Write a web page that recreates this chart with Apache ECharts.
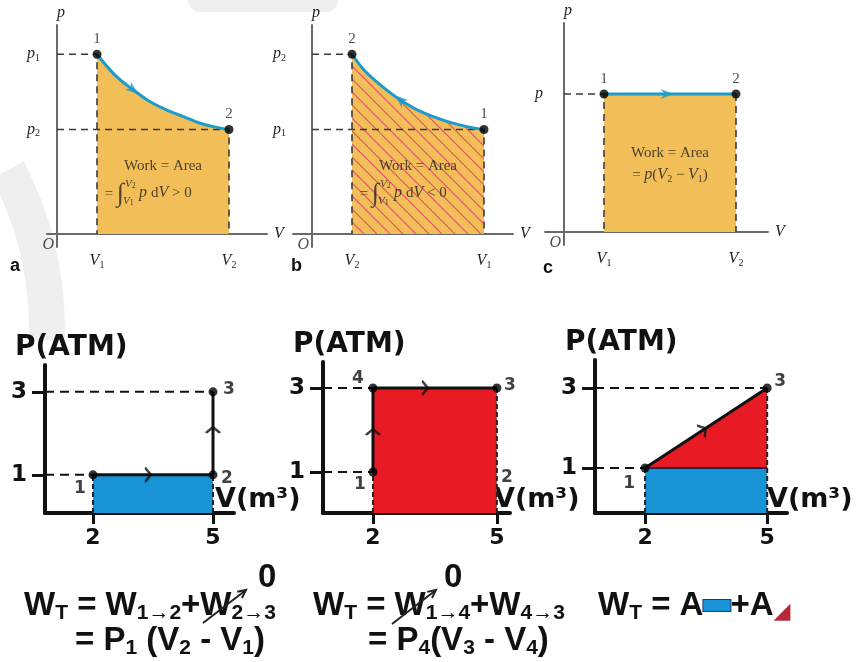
<!DOCTYPE html>
<html><head><meta charset="utf-8">
<script src="https://cdn.jsdelivr.net/npm/echarts@6/dist/echarts.min.js"></script>
<style>html,body{margin:0;padding:0;background:#fff}#c{width:859px;height:662px}</style>
</head><body><div id="c"></div>
<script>
// ================= DATA =================
// Panel a: expansion 1 -> 2 (V, p in arbitrary units)
const aV = [1.0, 1.45, 1.9, 2.33, 2.75, 3.18, 3.58, 3.93, 4.3];
const aP = [3.44, 3.04, 2.76, 2.53, 2.37, 2.24, 2.12, 2.05, 2.0];
const aStates = [[1.0, 3.44, '1'], [4.3, 2.0, '2']];
const aTickV = [1.0, 4.3], aTickVNames = ['1', '2'];
const aTickP = [2.0, 3.44], aTickPNames = ['2', '1'];
// Panel b: compression 1 -> 2
const bV = [1.0, 1.3, 1.7, 2.2, 2.75, 3.35, 3.9, 4.3];
const bP = [3.44, 3.14, 2.86, 2.57, 2.33, 2.16, 2.05, 2.0];
const bStates = [[4.3, 2.0, '1'], [1.0, 3.44, '2']];
const bTickV = [1.0, 4.3], bTickVNames = ['2', '1'];
const bTickP = [2.0, 3.44], bTickPNames = ['1', '2'];
// Panel c: constant pressure 1 -> 2
const cV = [1.0, 4.3];
const cP = [2.64, 2.64];
const cStates = [[1.0, 2.64, '1'], [4.3, 2.64, '2']];
const cTickV = [1.0, 4.3], cTickVNames = ['1', '2'];
// Bottom panels: P (atm) vs V (m^3)
const botTickV = [2, 5];
const botTickP = [1, 3];
const dStates = [[2, 1, '1'], [5, 1, '2'], [5, 3, '3']];
const eStates = [[2, 1, '1'], [2, 3, '4'], [5, 3, '3'], [5, 1, '2']];
const fStates = [[2, 1, '1'], [5, 3, '3']];

// ================= STYLE =================
const ORANGE = '#F2BE58', TEAL = '#1E9ACB', BLUE = '#1893D6', RED = '#E81B24';
const AXG = '#6a6a6a';
const TXT = '#222';
const SERIF = '"Liberation Serif","DejaVu Serif",serif';
const SANS = '"DejaVu Sans",sans-serif';
const ARIAL = '"Liberation Sans",Arial,sans-serif';
const zip = (xs, ys) => xs.map((x, i) => [x, ys[i]]);

const topRich = {
  i: {fontFamily: SERIF, fontStyle: 'italic', fontSize: 16, color: TXT, lineHeight: 18},
  t: {fontFamily: SERIF, fontSize: 15, color: TXT, lineHeight: 18},
  s: {fontFamily: SERIF, fontSize: 10, color: TXT, lineHeight: 10, verticalAlign: 'bottom'},
  int: {fontFamily: SERIF, fontStyle: 'italic', fontSize: 26, color: TXT, lineHeight: 28},
  si: {fontFamily: SERIF, fontStyle: 'italic', fontSize: 11, color: TXT, lineHeight: 12},
  ss: {fontFamily: SERIF, fontSize: 8, color: TXT, lineHeight: 8, verticalAlign: 'bottom'}
};

function hatch() {
  const s = 13, c = document.createElement('canvas');
  c.width = s; c.height = s;
  const g = c.getContext('2d');
  g.fillStyle = ORANGE; g.fillRect(0, 0, s, s);
  g.strokeStyle = '#E4506A'; g.lineWidth = 1.2;
  g.beginPath();
  g.moveTo(0, 0); g.lineTo(s, s);
  g.moveTo(-2, s - 2); g.lineTo(2, s + 2);
  g.moveTo(s - 2, -2); g.lineTo(s + 2, 2);
  g.stroke();
  return c;
}
function textW(t, font) {
  const g = document.createElement('canvas').getContext('2d');
  g.font = font; return g.measureText(t).width;
}

// ================= HELPERS =================
function line(gi, data, opts) {
  return Object.assign({type: 'line', xAxisIndex: gi, yAxisIndex: gi, data: data,
    symbol: 'none', silent: true, animation: false}, opts);
}
const topDash = {lineStyle: {color: '#3a3a3a', width: 1.6, type: [7, 5]}, z: 3};
const botDash = {lineStyle: {color: '#111', width: 2, type: [9, 6]}, z: 3};
const edgeDash = {lineStyle: {color: '#222', width: 2, type: [5, 3]}, z: 3};

function pointSeries(gi, states, labelOpt, sizes) {
  return {type: 'scatter', xAxisIndex: gi, yAxisIndex: gi, silent: true, animation: false, z: 6,
    symbolSize: 9, itemStyle: {color: '#000'},
    data: states.map((s, i) => {
      const it = {value: [s[0], s[1]], name: s[2]};
      if (sizes) it.symbolSize = sizes[i];
      if (labelOpt.offsets) it.label = {offset: labelOpt.offsets[i]};
      return it;
    }),
    label: Object.assign({show: true, formatter: '{b}'}, labelOpt.base)};
}
function arrowSeries(gi, pt, rot, opts) {
  return Object.assign({type: 'scatter', xAxisIndex: gi, yAxisIndex: gi, silent: true, animation: false, z: 5,
    data: [pt], symbolRotate: rot}, opts);
}
const topArrow = {symbol: 'path://M6,0 L12,14 L6,10 L0,14 Z', symbolSize: [10, 13], itemStyle: {color: TEAL}};
const chevron = {symbol: 'path://M0,9 L7,0 L14,9', symbolSize: [14, 9], symbolKeepAspect: true,
  itemStyle: {color: 'rgba(0,0,0,0)', borderColor: '#111', borderWidth: 2.5}};

function textSeries(gi, items) {
  return {type: 'scatter', xAxisIndex: gi, yAxisIndex: gi, silent: true, animation: false, z: 7,
    symbolSize: 1, itemStyle: {color: 'rgba(0,0,0,0)'},
    data: items.map(it => ({value: it.at, label: Object.assign({show: true, position: 'inside',
      formatter: it.text, rich: topRich}, it.opt || {})}))};
}

function topX(gi, min, max, ticks, names) {
  return {type: 'value', gridIndex: gi, min: min, max: max,
    axisLine: {onZero: true, lineStyle: {color: AXG, width: 2}}, axisTick: {show: false}, splitLine: {show: false},
    axisLabel: {customValues: ticks, margin: 5, rich: topRich,
      formatter: v => { const k = ticks.findIndex(t => Math.abs(t - v) < 1e-6); return '{i|V}{s|' + names[k] + '}'; }},
    name: 'V', nameLocation: 'end', nameGap: 7,
    nameTextStyle: {fontFamily: SERIF, fontStyle: 'italic', fontSize: 16, color: TXT, verticalAlign: 'middle'}};
}
function topY(gi, min, max, ticks, names, margin) {
  return {type: 'value', gridIndex: gi, min: min, max: max,
    axisLine: {onZero: true, lineStyle: {color: AXG, width: 2}}, axisTick: {show: false}, splitLine: {show: false},
    axisLabel: {customValues: ticks, margin: margin, rich: topRich,
      formatter: v => { const k = ticks.findIndex(t => Math.abs(t - v) < 1e-6); return names ? '{i|p}{s|' + names[k] + '}' : '{i|p}'; }},
    name: 'p', nameLocation: 'end', nameGap: 4,
    nameTextStyle: {fontFamily: SERIF, fontStyle: 'italic', fontSize: 16, color: TXT, align: 'left'}};
}
const botFont = {fontFamily: SANS, fontWeight: 'bold', color: '#111'};
const wP = textW('P(ATM)', 'bold 28px "DejaVu Sans"');
function botX(gi, min, max, gap) {
  return {type: 'value', gridIndex: gi, min: min, max: max,
    axisLine: {onZero: false, lineStyle: {color: '#111', width: 4}},
    axisTick: {customValues: botTickV, length: 11, lineStyle: {color: '#111', width: 3}},
    axisLabel: Object.assign({customValues: botTickV, margin: 14, fontSize: 22}, botFont),
    splitLine: {show: false},
    name: 'V(m³)', nameLocation: 'end', nameGap: gap,
    nameTextStyle: Object.assign({fontSize: 27, align: 'left', verticalAlign: 'bottom'}, botFont)};
}
function botY(gi, min, max) {
  return {type: 'value', gridIndex: gi, min: min, max: max,
    axisLine: {onZero: false, lineStyle: {color: '#111', width: 4}},
    axisTick: {customValues: botTickP, length: 13, lineStyle: {color: '#111', width: 3}},
    axisLabel: Object.assign({customValues: botTickP, margin: 18, fontSize: 23}, botFont),
    splitLine: {show: false},
    name: 'P(ATM)', nameLocation: 'end', nameGap: 17,
    nameTextStyle: Object.assign({fontSize: 28, align: 'center', verticalAlign: 'middle',
      padding: [0, 0, 0, Math.max(0, wP - 60)]}, botFont)};
}

// ================= AXES & GRIDS =================
const grids = [
  {left: 47, top: 25, width: 220, height: 222},
  {left: 293, top: 25, width: 220, height: 222},
  {left: 545, top: 23, width: 223, height: 222},
  {left: 45, top: 365, width: 189, height: 148},
  {left: 323, top: 362, width: 187, height: 151},
  {left: 595, top: 360, width: 192, height: 153}
];
const bLim = [
  {x: [0.8, 5.525], y: [0.08, 3.646]},
  {x: [0.79, 5.318], y: [0.024, 3.619]},
  {x: [0.77, 5.487], y: [-0.125, 3.7]}
];
const xAxis = [
  topX(0, -0.25, 5.25, aTickV, aTickVNames),
  topX(1, -0.475, 5.025, bTickV, bTickVNames),
  topX(2, -0.475, 5.1, cTickV, cTickVNames),
  botX(3, bLim[0].x[0], bLim[0].x[1], -19),
  botX(4, bLim[1].x[0], bLim[1].x[1], -16),
  botX(5, bLim[2].x[0], bLim[2].x[1], -20)
];
const yAxis = [
  topY(0, -0.25, 4.0, aTickP, aTickPNames, 7),
  topY(1, -0.25, 4.0, bTickP, bTickPNames, 7),
  topY(2, -0.25, 4.0, [cP[0]], null, 2),
  botY(3, bLim[0].y[0], bLim[0].y[1]),
  botY(4, bLim[1].y[0], bLim[1].y[1]),
  botY(5, bLim[2].y[0], bLim[2].y[1])
];

// ================= SERIES =================
const series = [];
const topPtLabel = {base: {position: 'top', distance: 3, fontFamily: SERIF, fontSize: 15, color: TXT}};
// --- panel a
const aPts = zip(aV, aP), aN = aV.length - 1;
series.push(line(0, aPts, {smooth: 0.35, lineStyle: {width: 0}, areaStyle: {color: ORANGE, opacity: 1}, z: 1}));
series.push(line(0, [[0, aP[0]], [aV[0], aP[0]], [aV[0], 0]], topDash));
series.push(line(0, [[0, aP[aN]], [aV[aN], aP[aN]], [aV[aN], 0]], topDash));
series.push(line(0, aPts, {smooth: 0.35, lineStyle: {color: TEAL, width: 3}, z: 4}));
series.push(pointSeries(0, aStates, topPtLabel));
series.push(arrowSeries(0, [aV[2], aP[2]], -127, topArrow));
// --- panel b
const bPts = zip(bV, bP), bN = bV.length - 1;
series.push(line(1, bPts, {smooth: 0.35, lineStyle: {width: 0}, areaStyle: {color: {image: hatch(), repeat: 'repeat'}, opacity: 1}, z: 1}));
series.push(line(1, [[0, bP[0]], [bV[0], bP[0]], [bV[0], 0]], topDash));
series.push(line(1, [[0, bP[bN]], [bV[bN], bP[bN]], [bV[bN], 0]], topDash));
series.push(line(1, bPts, {smooth: 0.35, lineStyle: {color: TEAL, width: 3}, z: 4}));
series.push(pointSeries(1, bStates, topPtLabel));
series.push(arrowSeries(1, [bV[3], bP[3]], 51, topArrow));
// --- panel c
const cPts = zip(cV, cP);
series.push(line(2, cPts, {lineStyle: {width: 0}, areaStyle: {color: ORANGE, opacity: 1}, z: 1}));
series.push(line(2, [[0, cP[0]], [cV[0], cP[0]], [cV[0], 0]], topDash));
series.push(line(2, [[cV[1], cP[1]], [cV[1], 0]], topDash));
series.push(line(2, cPts, {lineStyle: {color: TEAL, width: 3}, z: 4}));
series.push(pointSeries(2, cStates, topPtLabel));
series.push(arrowSeries(2, [2.58, cP[0]], -90, topArrow));

// --- text inside top panels
const midA = (aV[0] + aV[aN]) / 2;
series.push(textSeries(0, [
  {at: [midA, 1.3], text: '{t|Work = Area}'},
  {at: [midA, 0.78], text: '{t|= }{int|∫}', opt: {align: 'right', offset: [-39, 1]}},
  {at: [midA, 0.78], text: '{si|V}{ss|2}', opt: {align: 'left', offset: [-38, -9]}},
  {at: [midA, 0.78], text: '{si|V}{ss|1}', opt: {align: 'left', offset: [-40, 8]}},
  {at: [midA, 0.78], text: '{i|p }{t|d}{i|V}{t| > 0}', opt: {align: 'left', offset: [-24, 0]}},
  {at: [0, 0], text: '{i|O}', opt: {align: 'right', offset: [-3, 11]}}
]));
const midB = (bV[0] + bV[bN]) / 2;
series.push(textSeries(1, [
  {at: [midB, 1.3], text: '{t|Work = Area}'},
  {at: [midB, 0.78], text: '{t|= }{int|∫}', opt: {align: 'right', offset: [-39, 1]}},
  {at: [midB, 0.78], text: '{si|V}{ss|2}', opt: {align: 'left', offset: [-38, -9]}},
  {at: [midB, 0.78], text: '{si|V}{ss|1}', opt: {align: 'left', offset: [-40, 8]}},
  {at: [midB, 0.78], text: '{i|p }{t|d}{i|V}{t| < 0}', opt: {align: 'left', offset: [-24, 0]}},
  {at: [0, 0], text: '{i|O}', opt: {align: 'right', offset: [-3, 11]}}
]));
const midC = (cV[0] + cV[1]) / 2;
series.push(textSeries(2, [
  {at: [midC, 1.51], text: '{t|Work = Area}'},
  {at: [midC, 1.09], text: '{t|= }{i|p}{t|(}{i|V}{s|2}{t| − }{i|V}{s|1}{t|)}'},
  {at: [0, 0], text: '{i|O}', opt: {align: 'right', offset: [-3, 11]}}
]));

// --- bottom panels
const botPtLabel = (offs) => ({base: {position: 'inside', fontFamily: SANS, fontWeight: 'bold', fontSize: 17, color: '#111'}, offsets: offs});
// panel d
const dy0 = bLim[0].y[0], dx0 = bLim[0].x[0];
series.push(line(3, [[dStates[0][0], dStates[0][1]], [dStates[1][0], dStates[1][1]]], {lineStyle: {width: 0}, areaStyle: {color: BLUE, opacity: 1, origin: 'start'}, z: 1}));
series.push(line(3, [[dStates[0][0], dy0], [dStates[0][0], dStates[0][1]]], edgeDash));
series.push(line(3, [[dStates[1][0], dy0], [dStates[1][0], dStates[1][1]]], edgeDash));
series.push(line(3, [[dx0, dStates[2][1]], [dStates[2][0], dStates[2][1]]], botDash));
series.push(line(3, [[dx0, dStates[0][1]], [dStates[0][0], dStates[0][1]]], botDash));
series.push(line(3, dStates.map(s => [s[0], s[1]]), {lineStyle: {color: '#111', width: 3}, z: 4}));
series.push(pointSeries(3, dStates, botPtLabel([[-13, 14], [14, 4], [16, -2]])));
series.push(arrowSeries(3, [3.375, 1], -90, chevron));
series.push(arrowSeries(3, [5, 2.08], 0, chevron));
// panel e
const ey0 = bLim[1].y[0], ex0 = bLim[1].x[0];
series.push(line(4, [[eStates[1][0], eStates[1][1]], [eStates[2][0], eStates[2][1]]], {lineStyle: {width: 0}, areaStyle: {color: RED, opacity: 1, origin: 'start'}, z: 1}));
series.push(line(4, [[eStates[0][0], ey0], [eStates[0][0], eStates[0][1]]], edgeDash));
series.push(line(4, [[eStates[2][0], ey0], [eStates[2][0], eStates[2][1]]], edgeDash));
series.push(line(4, [[ex0, eStates[1][1]], [eStates[1][0], eStates[1][1]]], botDash));
series.push(line(4, [[ex0, eStates[0][1]], [eStates[0][0], eStates[0][1]]], botDash));
series.push(line(4, eStates.slice(0, 3).map(s => [s[0], s[1]]), {lineStyle: {color: '#111', width: 3}, z: 4}));
series.push(pointSeries(4, eStates, botPtLabel([[-13, 13], [-15, -9], [13, -2], [10, 6]]), [9, 9, 9, 0]));
series.push(arrowSeries(4, [2, 1.95], 0, chevron));
series.push(arrowSeries(4, [3.26, 3], -90, chevron));
// panel f
const fy0 = bLim[2].y[0], fx0 = bLim[2].x[0];
series.push(line(5, [[fStates[0][0], fStates[0][1]], [fStates[1][0], fStates[0][1]]], {lineStyle: {color: '#1c2550', width: 2}, areaStyle: {color: BLUE, opacity: 1, origin: 'start'}, z: 2}));
series.push(line(5, fStates.map(s => [s[0], s[1]]), {lineStyle: {width: 0}, areaStyle: {color: RED, opacity: 1, origin: fStates[0][1]}, z: 1}));
series.push(line(5, [[fStates[0][0], fy0], [fStates[0][0], fStates[0][1]]], edgeDash));
series.push(line(5, [[fStates[1][0], fy0], [fStates[1][0], fStates[1][1]]], edgeDash));
series.push(line(5, [[fx0, fStates[1][1]], [fStates[1][0], fStates[1][1]]], botDash));
series.push(line(5, [[fx0, fStates[0][1]], [fStates[0][0], fStates[0][1]]], botDash));
series.push(line(5, fStates.map(s => [s[0], s[1]]), {lineStyle: {color: '#111', width: 3}, z: 4}));
series.push(pointSeries(5, fStates, botPtLabel([[-16, 16], [13, -6]])));
series.push(arrowSeries(5, [3.43, 1.953], -56.7, chevron));

// ================= GRAPHIC TEXT (formulas, panel letters, watermark) =================
const fR = {
  b: {fontFamily: ARIAL, fontWeight: 'bold', fontSize: 33, fill: '#111', lineHeight: 36},
  sub: {fontFamily: ARIAL, fontWeight: 'bold', fontSize: 21, fill: '#111', lineHeight: 20, verticalAlign: 'bottom'},
  rect: {backgroundColor: BLUE, borderColor: '#1c3d78', borderWidth: 1, width: 27, height: 11, lineHeight: 11, verticalAlign: 'middle'},
  tri: {fontFamily: SANS, fontSize: 22, fill: '#B3283A', color: '#B3283A', verticalAlign: 'bottom', lineHeight: 22}
};
function gtext(x, y, text, extra) {
  return Object.assign({type: 'text', left: x, top: y, z: 10, silent: true,
    style: {text: text, rich: fR, fill: '#111'}}, extra || {});
}
function crossArrow(x1, y1, x2, y2) {
  const ang = Math.atan2(y2 - y1, x2 - x1), L = 9, W = 0.45;
  return [
    {type: 'line', z: 11, silent: true, shape: {x1: x1, y1: y1, x2: x2, y2: y2}, style: {stroke: '#222', lineWidth: 2}},
    {type: 'polyline', z: 11, silent: true, shape: {points: [
      [x2 - L * Math.cos(ang - W), y2 - L * Math.sin(ang - W)], [x2, y2],
      [x2 - L * Math.cos(ang + W), y2 - L * Math.sin(ang + W)]]}, style: {stroke: '#222', lineWidth: 2, fill: null}}
  ];
}
const letterStyle = {font: 'bold 18px "Liberation Sans", Arial, sans-serif', fill: '#111'};
const graphic = [
  {type: 'arc', z: -10, silent: true, shape: {cx: -300, cy: 330, r: 347, startAngle: -0.48, endAngle: 0.03},
    style: {stroke: '#efefef', lineWidth: 36, fill: null}},
  {type: 'rect', z: -10, silent: true, shape: {x: 188, y: -12, width: 150, height: 24, r: 12}, style: {fill: '#efefef'}},
  {type: 'text', left: 10, top: 257, silent: true, style: Object.assign({text: 'a'}, letterStyle)},
  {type: 'text', left: 291, top: 257, silent: true, style: Object.assign({text: 'b'}, letterStyle)},
  {type: 'text', left: 543, top: 259, silent: true, style: Object.assign({text: 'c'}, letterStyle)},
  gtext(24, 589, '{b|W}{sub|T}{b| = W}{sub|1→2}{b|+W}{sub|2→3}'),
  gtext(75, 624, '{b|= P}{sub|1}{b| (V}{sub|2}{b| - V}{sub|1}{b|)}'),
  gtext(313, 589, '{b|W}{sub|T}{b| = W}{sub|1→4}{b|+W}{sub|4→3}'),
  gtext(368, 624, '{b|= P}{sub|4}{b|(V}{sub|3}{b| - V}{sub|4}{b|)}'),
  gtext(598, 589, '{b|W}{sub|T}{b| = A}{rect|}{b|+A}{tri|◢}'),
  gtext(258, 561, '{b|0}'),
  gtext(444, 561, '{b|0}')
].concat(crossArrow(203, 623, 246, 590), crossArrow(392, 624, 436, 590));

const chart = echarts.init(document.getElementById('c'), null, {renderer: 'canvas'});
chart.setOption({
  animation: false,
  backgroundColor: '#fff',
  grid: grids,
  xAxis: xAxis,
  yAxis: yAxis,
  series: series,
  graphic: graphic
});
</script>
</body></html>
